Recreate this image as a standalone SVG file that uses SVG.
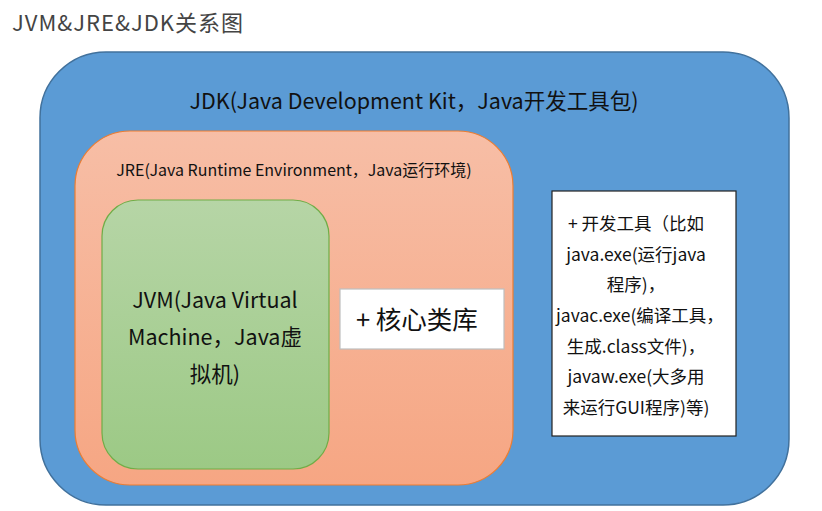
<svg xmlns="http://www.w3.org/2000/svg" width="822" height="511" viewBox="0 0 822 511">
<defs>
<linearGradient id="gJre" x1="0" y1="0" x2="0" y2="1"><stop offset="0" stop-color="#F7BEA6"/><stop offset="1" stop-color="#F6A683"/></linearGradient>
<linearGradient id="gJvm" x1="0" y1="0" x2="0" y2="1"><stop offset="0" stop-color="#B6D5A6"/><stop offset="1" stop-color="#9CC985"/></linearGradient>
<style>
text{font-family:"Noto Sans CJK SC","Noto Sans",sans-serif;fill:#111;}
.c{text-anchor:middle;}
</style>
</defs>
<rect width="822" height="511" fill="#fff"/>
<text x="12" y="31" font-size="22" letter-spacing="1" style="fill:#444">JVM&amp;JRE&amp;JDK关系图</text>
<g id="jdk">
<rect x="40" y="52" width="749" height="453" rx="66" ry="66" fill="#5B9BD5" stroke="#41719C" stroke-width="1.5"/>
<text class="c" x="414" y="109" font-size="21.5">JDK(Java Development Kit，Java开发工具包)</text>
</g>
<g id="jre">
<rect x="75" y="131" width="438" height="354" rx="55" ry="55" fill="url(#gJre)" stroke="#ED7D31" stroke-width="1.2"/>
<text class="c" x="294" y="176" font-size="16">JRE(Java Runtime Environment，Java运行环境)</text>
</g>
<g id="jvm">
<rect x="102" y="200" width="227" height="269" rx="36" ry="36" fill="url(#gJvm)" stroke="#70AD47" stroke-width="1.2"/>
<text class="c" x="215" y="308" font-size="21.5">JVM(Java Virtual</text>
<text class="c" x="215" y="345" font-size="21.5">Machine，Java虚</text>
<text class="c" x="215" y="382" font-size="21.5">拟机)</text>
</g>
<g id="corelib">
<rect x="340" y="289" width="164" height="60" fill="#fff" stroke="#BFBFBF" stroke-width="1.2"/>
<text x="356" y="329" font-size="25.5">+ 核心类库</text>
</g>
<g id="tools">
<rect x="552" y="191" width="184" height="245" fill="#fff" stroke="#222" stroke-width="1.2"/>
<g font-size="17.5">
<text class="c" x="636" y="230">+ 开发工具（比如</text>
<text class="c" x="636" y="261">java.exe(运行java</text>
<text class="c" x="636" y="291">程序)，</text>
<text x="556" y="322">javac.exe(编译工具，</text>
<text class="c" x="636" y="353">生成.class文件)，</text>
<text class="c" x="636" y="383">javaw.exe(大多用</text>
<text class="c" x="636" y="414">来运行GUI程序)等)</text>
</g>
</g>
<g id="connectors"></g>
</svg>
